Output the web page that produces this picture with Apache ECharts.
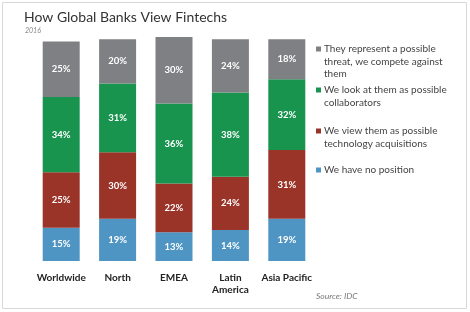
<!DOCTYPE html>
<html><head><meta charset="utf-8">
<script src="https://cdn.jsdelivr.net/npm/echarts@6/dist/echarts.min.js"></script>
<style>html,body{margin:0;padding:0;background:#fff}#c{width:470px;height:312px}</style>
</head><body><div id="c"></div>
<script>
const categories = ['Worldwide', 'North', 'EMEA', 'Latin\nAmerica', 'Asia Pacific'];
const noPosition = [15, 19, 13, 14, 19];
const acquisitions = [25, 30, 22, 24, 31];
const collaborators = [34, 31, 36, 38, 32];
const threat = [25, 20, 30, 24, 18];
const seriesNames = [
  'We have no position',
  'We view them as possible\ntechnology acquisitions',
  'We look at them as possible\ncollaborators',
  'They represent a possible\nthreat, we compete against\nthem'
];
const colors = ['#4f95c4', '#9a3328', '#18944f', '#7e8083'];
const seriesData = [noPosition, acquisitions, collaborators, threat];

const FONT = 'Lato';
const chart = echarts.init(document.getElementById('c'), null, {renderer: 'canvas'});

const legendTops = [164, 125, 84, 43];
const legends = seriesNames.map((n, i) => ({
  data: [n],
  left: 311,
  top: legendTops[i],
  orient: 'vertical',
  icon: 'none',
  itemWidth: 0,
  itemHeight: 0,
  itemGap: 0,
  padding: 0,
  selectedMode: false,
  formatter: function (name) {
    const lines = name.split('\n');
    return lines.map((l, k) => (k === 0 ? '{sq' + i + '|}' : '{sp|}') + '{t|' + l + '}').join('\n');
  },
  textStyle: {
    rich: Object.assign({
      t: {fontFamily: FONT, fontSize: 10, color: '#444', lineHeight: 12.5, padding: [0, 0, 0, 3]},
      sp: {width: 5, height: 5}
    }, (() => { const o = {}; o['sq' + i] = {width: 5, height: 5, backgroundColor: colors[i]}; return o; })())
  }
}));

chart.setOption({
  animation: false,
  title: [
    {text: 'How Global Banks View Fintechs', left: 19, top: 5,
     textStyle: {fontFamily: FONT, fontSize: 14, fontWeight: 'normal', color: '#333'}},
    {text: '2016', left: 20, top: 22,
     textStyle: {fontFamily: FONT, fontSize: 7, fontStyle: 'italic', fontWeight: 'normal', color: '#888'}},
    {text: 'Source: IDC', left: 311, top: 287,
     textStyle: {fontFamily: FONT, fontSize: 8.5, fontStyle: 'italic', fontWeight: 'normal', color: '#777'}}
  ],
  legend: legends,
  grid: {left: 33, top: 37, width: 282, height: 224, containLabel: false},
  xAxis: {
    type: 'category', data: categories,
    axisLine: {show: false}, axisTick: {show: false},
    axisLabel: {fontFamily: FONT, fontSize: 10, fontWeight: 'bold', color: '#222', margin: 11, lineHeight: 12, interval: 0}
  },
  yAxis: {type: 'value', min: 0, max: 101, show: false, splitLine: {show: false}},
  series: seriesData.map((d, i) => ({
    name: seriesNames[i],
    type: 'bar',
    stack: 'all',
    data: d,
    barWidth: 37,
    clip: false,
    itemStyle: {color: colors[i]},
    label: {show: true, position: 'inside', formatter: '{c}%', color: '#fff',
            fontFamily: FONT, fontSize: 9.5, fontWeight: 'bold'}
  })),
  graphic: [{type: 'rect', shape: {x: 2.5, y: 2.5, width: 464, height: 306},
             style: {fill: null, stroke: '#d8d8d8', lineWidth: 1}, silent: true}]
});
</script></body></html>
